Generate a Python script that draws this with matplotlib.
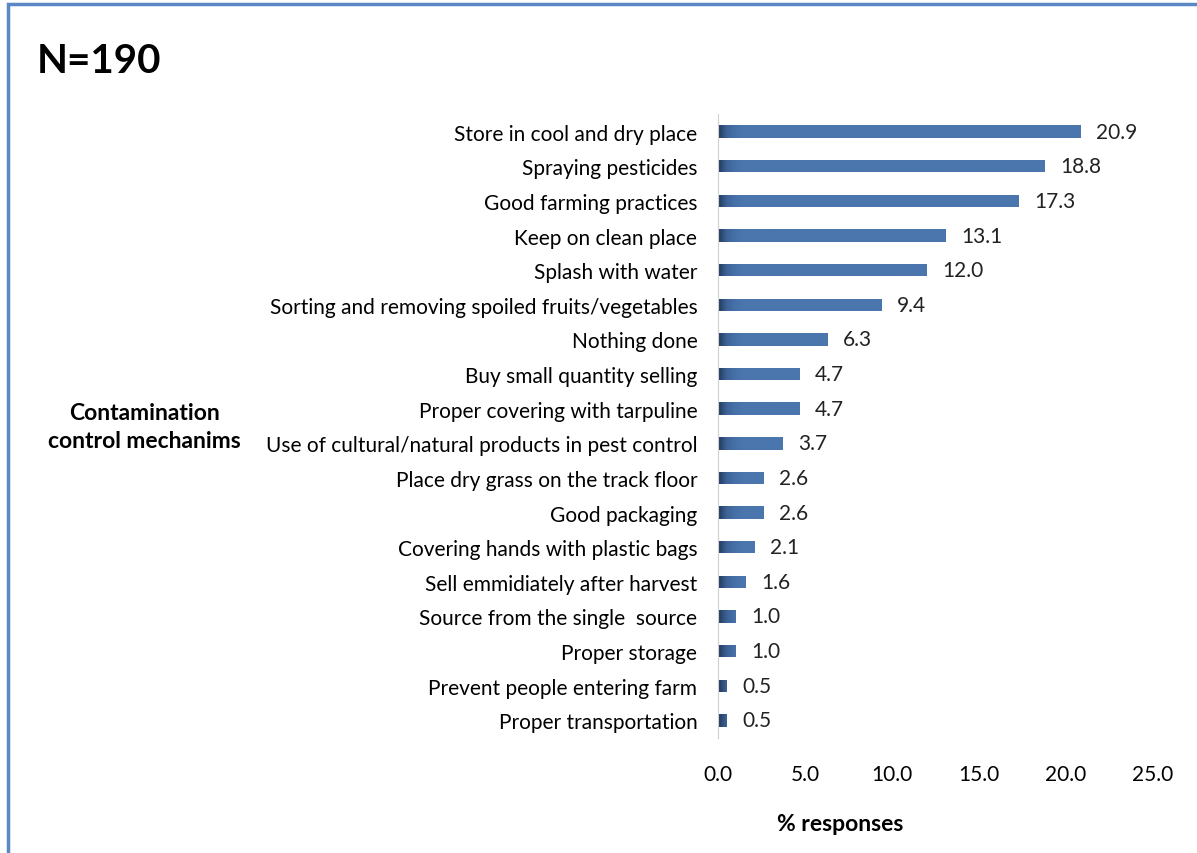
import numpy as np
import matplotlib.pyplot as plt
from matplotlib.colors import LinearSegmentedColormap
from matplotlib.patches import Rectangle

plt.rcParams['font.family'] = ['Lato', 'DejaVu Sans']

categories = [
    "Store in cool and dry place",
    "Spraying pesticides",
    "Good farming practices",
    "Keep on clean place",
    "Splash with water",
    "Sorting and removing spoiled fruits/vegetables",
    "Nothing done",
    "Buy small quantity selling",
    "Proper covering with tarpuline",
    "Use of cultural/natural products in pest control",
    "Place dry grass on the track floor",
    "Good packaging",
    "Covering hands with plastic bags",
    "Sell emmidiately after harvest",
    "Source from the single  source",
    "Proper storage",
    "Prevent people entering farm",
    "Proper transportation",
]
values = [20.9, 18.8, 17.3, 13.1, 12.0, 9.4, 6.3, 4.7, 4.7, 3.7, 2.6, 2.6, 2.1, 1.6, 1.0, 1.0, 0.5, 0.5]
xticks = [0, 5, 10, 15, 20, 25]

fig = plt.figure(figsize=(11.97, 8.54), dpi=100)
ax = fig.add_axes([0.600, 0.135, 0.3626, 0.730])

y = np.arange(len(categories))[::-1]
bars = ax.barh(y, values, height=0.36, color='none')

# dark-to-blue gradient on the left end of each bar
cmap = LinearSegmentedColormap.from_list('bar', ['#22395c', '#3d6396', '#4671a8', '#4a76ad'])
grad = np.clip(np.linspace(0, 25, 600) / 1.4, 0, 1)[None, :]
for b in bars:
    x0, y0, w, h = b.get_x(), b.get_y(), b.get_width(), b.get_height()
    im = ax.imshow(grad, cmap=cmap, vmin=0, vmax=1, aspect='auto',
                   extent=(0, 25, y0, y0 + h), interpolation='bilinear', zorder=2)
    clip = Rectangle((x0, y0), w, h, transform=ax.transData)
    im.set_clip_path(clip)

for yi, v in zip(y, values):
    ax.annotate(f"{v:.1f}", (v, yi), xytext=(11, 0), textcoords='offset points',
                va='center', ha='left', fontsize=15, color='#222222')

ax.set_xlim(0, 25)
ax.set_ylim(-0.5, len(categories) - 0.5)
ax.set_xticks(xticks)
ax.set_xticklabels([f"{t:.1f}" for t in xticks], fontsize=15)
ax.set_yticks(y)
ax.set_yticklabels(categories, fontsize=15)
ax.tick_params(axis='both', length=0)
ax.tick_params(axis='x', pad=19)
ax.tick_params(axis='y', pad=15)
for s in ['top', 'right', 'bottom']:
    ax.spines[s].set_visible(False)
ax.spines['left'].set_color('#d0d0d0')

fig.text(0.031, 0.928, "N=190", fontsize=29, fontweight='bold', va='center', ha='left')
fig.text(0.121, 0.499, "Contamination\ncontrol mechanims", fontsize=16.5, fontweight='bold',
         ha='center', va='center', linespacing=1.4)
fig.text(0.702, 0.034, "% responses", fontsize=16.5, fontweight='bold', ha='center', va='center')

fig.patches.append(Rectangle((0.0065, -0.05), 1.2, 1.044, transform=fig.transFigure,
                             fill=False, edgecolor='#5b87c5', linewidth=2.5))

fig.savefig('out.png', dpi=100)
